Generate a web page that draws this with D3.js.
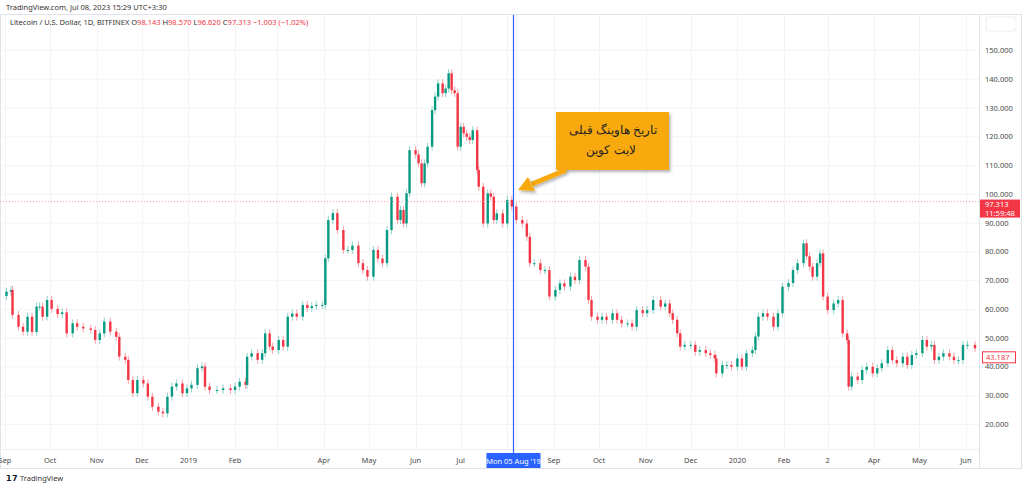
<!DOCTYPE html>
<html><head><meta charset="utf-8">
<script src="https://cdn.jsdelivr.net/npm/d3@7"></script>
<style>body{margin:0;background:#fff;font-family:"Noto Sans",Roboto,sans-serif}</style>
</head><body><svg id="c" width="1024" height="488"></svg>
<script>
// days since 2018-09-01 and closing prices (USD)
const days = [1,4,5,9,12,15,18,21,23,25,28,31,35,38,41,45,48,52,57,60,63,66,70,74,76,80,82,85,88,92,95,98,102,105,108,111,114,118,121,124,128,131,133,136,141,145,150,153,156,160,161,164,168,171,173,176,178,182,185,188,191,194,198,201,204,207,211,213,215,218,221,225,228,231,235,238,241,245,248,251,254,257,261,263,265,267,269,273,275,277,279,281,284,286,288,291,293,295,297,299,301,303,305,307,309,311,314,315,318,321,323,325,327,331,334,337,340,344,347,349,352,356,359,362,366,369,372,376,379,382,386,388,390,394,397,400,404,407,410,414,417,420,424,427,431,436,439,442,444,447,449,452,456,459,462,466,469,472,473,477,480,483,487,490,493,497,499,501,504,507,511,514,517,521,524,527,531,533,535,537,540,542,544,547,551,554,557,560,561,563,567,570,573,577,580,583,587,590,593,597,600,603,606,610,613,616,618,621,624,628,631,634,637,640,645];
const closes = [66,66.6,57.9,53.8,52.1,57.3,52,60.8,60.8,57.3,63.1,60,58.2,58.8,51.5,55,53.8,53.2,52.7,49.2,51.5,55.6,52.1,50.3,43.4,42.3,35.3,30.7,35.3,34.1,29.5,26,24.3,23.7,29.5,33,34.1,30.7,32.4,33.6,39.4,40,33,31.8,31.8,32.4,31.8,33,34.7,33.6,43.4,44.6,42.3,44.6,51.5,46.9,45.7,49.2,46.9,57.3,58.4,57.3,61.4,60.3,61,61.4,61.4,77.6,90.9,93.3,87.4,80.5,80.5,82,75.9,73.5,71.2,80.5,77.5,75.9,87.4,99,90.9,94.4,89.7,100.2,115.2,113.7,110.6,103.7,110.6,116.4,129.1,133.8,138.4,135,136.6,141.9,136,135,116.4,123.3,121,119.8,118.7,122.1,108.3,102.5,89.7,100.2,99,90.9,93.2,89.7,97.9,95.6,90.9,89.7,85.1,75.9,75.9,73.5,73.5,64.3,66.6,68.9,67.8,71.2,70,77,74.7,63.1,57.3,56.2,57.3,56.2,58.5,56.2,55,55,53.8,59.6,58.5,59.6,63.1,60.8,61.9,58.5,56.2,51.5,46.9,47.5,47.5,45.1,45.7,44.6,44,42.8,37.6,40.5,40.5,39.9,42.8,39.9,44.6,45.7,50.4,57.3,58.5,57.3,53.8,58.5,67.7,69,73.5,75.9,82.8,78.3,74.7,71.2,75.9,79.3,64.3,59.6,61.9,63.1,51.5,49.2,33,36.5,35.3,38.8,39.9,37.6,39.4,41.1,45.7,42.2,41.1,43.4,40.5,44,44.6,49.2,46.9,47.5,42.2,43.4,44.6,43.4,42.2,42.2,47.5,47.5,46.3];
const priceTicks = [20,30,40,50,60,70,80,90,100,110,120,130,140,150];
const monthTicks = ["2018-09-01","2018-10-01","2018-11-01","2018-12-01","2019-01-01","2019-02-01","2019-03-01","2019-04-01","2019-05-01","2019-06-01","2019-07-01","2019-08-01","2019-09-01","2019-10-01","2019-11-01","2019-12-01","2020-01-01","2020-02-01","2020-03-01","2020-04-01","2020-05-01","2020-06-01"];
const monthLabels = ["Sep","Oct","Nov","Dec","2019","Feb","","Apr","May","Jun","Jul","","Sep","Oct","Nov","Dec","2020","Feb","2","Apr","May","Jun"];
const lastPrice = 97.313, markPrice = 43.187, halvingDate = "2019-08-05";

const svg = d3.select("#c");
const t0 = new Date(2018,8,1);
const toDate = d => new Date(2018,8,1+d);
const x = d3.scaleTime().domain([t0, toDate(645)]).range([5, 975]);
const y = d3.scaleLinear().domain([20,150]).range([424,50]);
const parse = d3.timeParse("%Y-%m-%d");

svg.append("text").attr("x",6).attr("y",10).attr("font-size",7.5).attr("fill","#333").text("TradingView.com, Jul 08, 2023 15:29 UTC+3:30");
svg.append("rect").attr("x",0.5).attr("y",14.5).attr("width",1021).attr("height",454).attr("fill","none").attr("stroke","#e0e3eb");
svg.append("line").attr("x1",979.5).attr("x2",979.5).attr("y1",15).attr("y2",469).attr("stroke","#e0e3eb");
svg.append("line").attr("x1",0).attr("x2",979).attr("y1",449.5).attr("y2",449.5).attr("stroke","#eef0f3");

svg.append("g").selectAll("line").data(priceTicks).join("line")
  .attr("x1",1).attr("x2",979).attr("y1",d=>y(d)+.5).attr("y2",d=>y(d)+.5).attr("stroke","#f3f4f6");
svg.append("g").selectAll("line").data(monthTicks).join("line")
  .attr("x1",d=>Math.round(x(parse(d)))+.5).attr("x2",d=>Math.round(x(parse(d)))+.5).attr("y1",15).attr("y2",449).attr("stroke","#f3f4f6");

svg.append("g").selectAll("text").data(priceTicks).join("text")
  .attr("x",985).attr("y",d=>y(d)+3).attr("font-size",7.5).attr("fill","#4a4a4a").text(d=>d3.format(".3f")(d));
svg.append("g").selectAll("text").data(monthTicks.map((d,i)=>[d,monthLabels[i]]).filter(d=>d[1])).join("text")
  .attr("x",d=>x(parse(d[0]))).attr("y",463).attr("text-anchor","middle").attr("font-size",7.5).attr("fill","#4a4a4a").text(d=>d[1]);

const g = svg.append("g");
const data = days.map((d,i)=>({d, c:closes[i], o: i? closes[i-1] : closes[0]-1.5}));
g.selectAll("line.w").data(data).join("line")
  .attr("x1",d=>x(toDate(d.d))).attr("x2",d=>x(toDate(d.d)))
  .attr("y1",d=>y(Math.max(d.o,d.c))-4).attr("y2",d=>y(Math.min(d.o,d.c))+4)
  .attr("stroke",d=>d.c>=d.o?"#8fd3c7":"#f7a1aa").attr("stroke-width",1);
g.selectAll("rect").data(data).join("rect")
  .attr("x",d=>x(toDate(d.d))-1.2).attr("width",2.4)
  .attr("y",d=>y(Math.max(d.o,d.c))).attr("height",d=>Math.max(1,Math.abs(y(d.o)-y(d.c))))
  .attr("fill",d=>d.c>=d.o?"#089981":"#f23645");

svg.append("line").attr("x1",0).attr("x2",979).attr("y1",y(lastPrice)).attr("y2",y(lastPrice))
  .attr("stroke","#f7a1aa").attr("stroke-dasharray","1,2");
svg.append("rect").attr("x",980).attr("y",y(lastPrice)-2).attr("width",40).attr("height",18).attr("fill","#f23645");
svg.append("text").attr("x",985).attr("y",y(lastPrice)+5.5).attr("font-size",7.5).attr("fill","#fff").text(d3.format(".3f")(lastPrice));
svg.append("text").attr("x",985).attr("y",y(lastPrice)+14).attr("font-size",7.5).attr("fill","#fff").text("11:59:48");
svg.append("rect").attr("x",982.5).attr("y",y(markPrice)-5.5).attr("width",33).attr("height",11).attr("fill","#fff").attr("stroke","#f23645");
svg.append("text").attr("x",986).attr("y",y(markPrice)+3).attr("font-size",7.5).attr("fill","#f23645").text(d3.format(".3f")(markPrice));

const hx = Math.round(x(parse(halvingDate)))+.5;
svg.append("line").attr("x1",hx).attr("x2",hx).attr("y1",15).attr("y2",453).attr("stroke","#2962ff").attr("stroke-width",1.2);
svg.append("rect").attr("x",hx-27).attr("y",453).attr("width",54).attr("height",15).attr("fill","#2962ff");
svg.append("text").attr("x",hx).attr("y",463.5).attr("text-anchor","middle").attr("font-size",7.5).attr("fill","#fff").text("Mon 05 Aug '19");

const h = svg.append("text").attr("x",10).attr("y",25).attr("font-size",7.5).attr("fill","#333");
h.append("tspan").text("Litecoin / U.S. Dollar, 1D, BITFINEX  O");
h.append("tspan").attr("fill","#f23645").text("98.143");
h.append("tspan").text("  H");
h.append("tspan").attr("fill","#f23645").text("98.570");
h.append("tspan").text("  L");
h.append("tspan").attr("fill","#f23645").text("96.620");
h.append("tspan").text("  C");
h.append("tspan").attr("fill","#f23645").text("97.313  −1.003 (−1.02%)");
svg.append("rect").attr("x",986).attr("y",17).attr("width",30).attr("height",14).attr("rx",3).attr("fill","#fff").attr("stroke","#eceef2");

const defs = svg.append("defs");
const f = defs.append("filter").attr("id","sh").attr("x","-20%").attr("y","-20%").attr("width","150%").attr("height","150%");
f.append("feDropShadow").attr("dx",1.5).attr("dy",2).attr("stdDeviation",1.5).attr("flood-opacity",0.3);
svg.append("rect").attr("x",556).attr("y",112).attr("width",113).attr("height",58).attr("fill","#f7a90a").attr("filter","url(#sh)");
svg.append("text").attr("x",613).attr("y",134).attr("text-anchor","middle").attr("font-size",12).attr("fill","#222").text("تاریخ هاوینگ قبلی");
svg.append("text").attr("x",611).attr("y",154).attr("text-anchor","middle").attr("font-size",12).attr("fill","#222").text("لایت کوین");
svg.append("line").attr("x1",566).attr("y1",170).attr("x2",532).attr("y2",184).attr("stroke","#f7a90a").attr("stroke-width",5).attr("filter","url(#sh)");
svg.append("path").attr("d","M518,190 L528,177 L535,191 Z").attr("fill","#f7a90a").attr("filter","url(#sh)");

svg.append("text").attr("x",6).attr("y",481).attr("font-size",8).attr("font-weight","bold").attr("fill","#131722").text("𝟭𝟳");
svg.append("text").attr("x",20).attr("y",481).attr("font-size",7.5).attr("fill","#333").text("TradingView");
</script></body></html>
